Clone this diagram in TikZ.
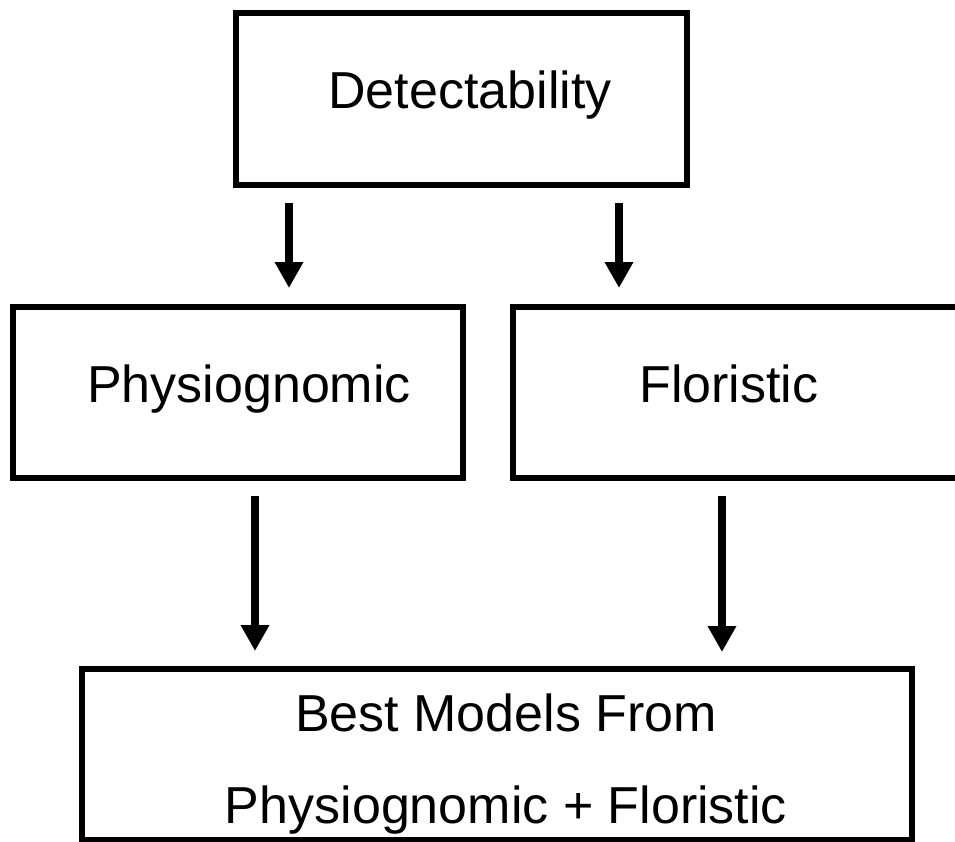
\documentclass[tikz,border=0pt]{standalone}
\usepackage{fontspec}
\setmainfont{Liberation Sans}
\usetikzlibrary{arrows.meta,fit}
\begin{document}
\begin{tikzpicture}[x=0.5pt,y=-0.5pt,
  box/.style={draw=black, line width=3pt, inner sep=0pt, fit={#1}},
  lbl/.style={anchor=base, inner sep=0pt, font=\fontsize{26}{30}\selectfont},
  arr/.style={line width=4pt, -{Triangle[length=13pt,width=13.5pt]}}]
\useasboundingbox (0,0) rectangle (955,842);
\clip (0,0) rectangle (955,842);
\fill[white] (0,0) rectangle (955,842);
% boxes
\node[box={(236,13) (687,184.5)}] (det) {};
\node[box={(13,307) (463,478)}] (phys) {};
\node[box={(513,307) (990,478)}] (flor) {};
\node[box={(82,669) (912,839.5)}] (best) {};
% labels
\node[lbl] (tdet) at (470,108) {Detectability};
\node[lbl] (tphys) at (249,402) {Physiognomic};
\node[lbl] (tflor) at (729,402) {Floristic};
\node[lbl] (tbest1) at (506,731) {Best Models From};
\node[lbl] (tbest2) at (506,823) {Physiognomic + Floristic};
% arrow ends
\coordinate (a1s) at (289,203); \coordinate (a1e) at (289,288);
\coordinate (a2s) at (619,203); \coordinate (a2e) at (619,288);
\coordinate (a3s) at (255,496); \coordinate (a3e) at (255,651);
\coordinate (a4s) at (722,496); \coordinate (a4e) at (722,652);
\draw[arr] (a1s) -- (a1e);
\draw[arr] (a2s) -- (a2e);
\draw[arr] (a3s) -- (a3e);
\draw[arr] (a4s) -- (a4e);
\end{tikzpicture}
\end{document}
